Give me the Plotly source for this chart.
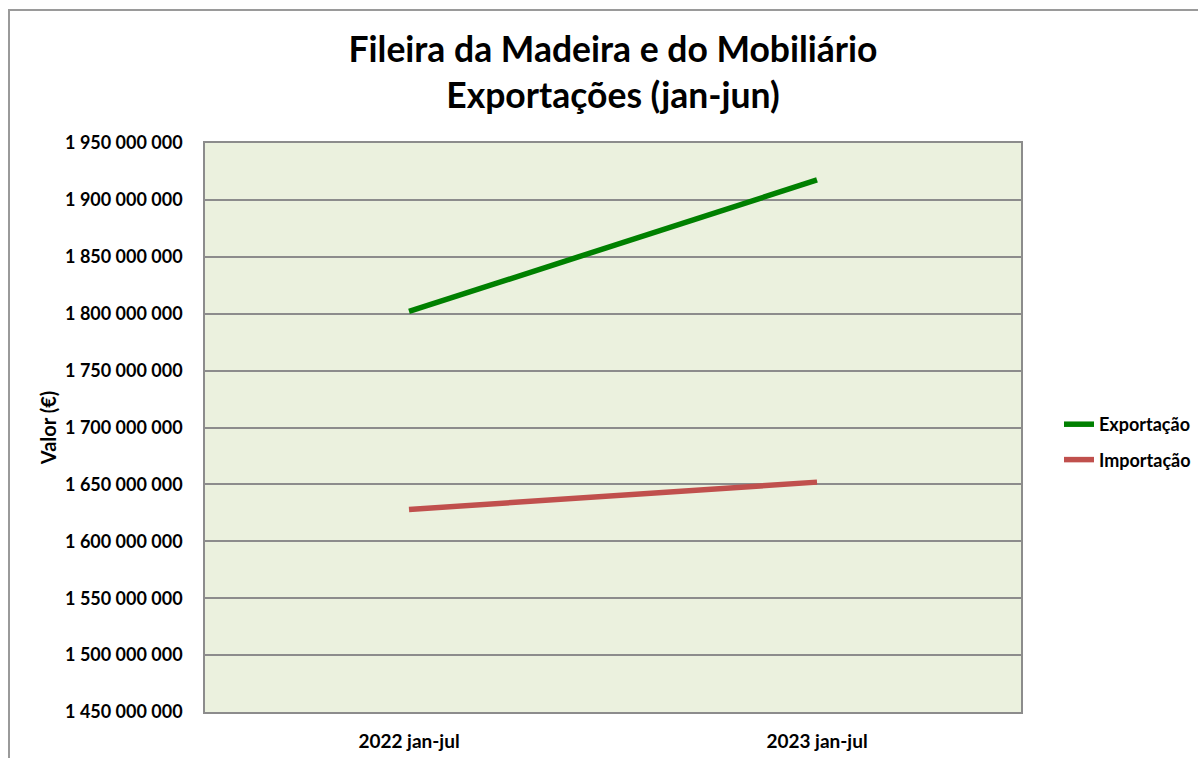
import plotly.graph_objects as go

categories = ["2022 jan-jul", "2023 jan-jul"]
exportacao = [1802000000, 1917500000]
importacao = [1628000000, 1652000000]
y_ticks = [1450000000 + 50000000 * i for i in range(11)]

FONT = "Lato"

fig = go.Figure()
fig.add_trace(go.Scatter(x=categories, y=exportacao, mode="lines", name="Exportação",
                         line=dict(color="#008000", width=5.5), legendgroup="a"))
fig.add_trace(go.Scatter(x=categories, y=importacao, mode="lines", name="Importação",
                         line=dict(color="#C0504D", width=5.5), legendgroup="b"))

fig.update_layout(
    width=1198, height=758,
    margin=dict(l=205, r=177, t=143, b=46),
    paper_bgcolor="white",
    plot_bgcolor="#EBF1DE",
    separators=", ",
    font=dict(family=FONT, color="black"),
    title=dict(text="Fileira da Madeira e do Mobiliário<br>Exportações (jan-jun)",
               x=0.5, xref="paper", xanchor="center", y=(758 - 62) / 758, yanchor="middle",
               font=dict(family=FONT, size=35.5, color="black", weight="bold")),
    showlegend=True,
    legend=dict(xref="container", yref="container", x=1059 / 1198, xanchor="left",
                y=(758 - 442) / 758, yanchor="middle",
                font=dict(family=FONT, size=18, color="black", weight="bold"), tracegroupgap=9,
                bgcolor="rgba(0,0,0,0)"),
    xaxis=dict(type="category", range=[-0.5, 1.5], showgrid=False, showline=True, mirror=True,
               linecolor="#8C8C8C", linewidth=1.5, ticks="", ticklabelstandoff=11, automargin=False,
               tickfont=dict(family=FONT, size=19, color="black", weight="bold")),
    yaxis=dict(range=[1450000000, 1950000000], tickvals=y_ticks, tickformat=",d",
               showgrid=True, gridcolor="#8C8C8C", gridwidth=1.5, showline=True, mirror=True,
               linecolor="#8C8C8C", linewidth=1.5, ticks="", ticklabelstandoff=17, zeroline=False,
               automargin=False,
               tickfont=dict(family=FONT, size=18, color="black", weight="bold"),
               title=dict(text="Valor (€)", font=dict(family=FONT, size=20, color="black", weight="bold"),
                          standoff=3)),
    shapes=[dict(type="rect", xref="paper", yref="paper",
                 x0=(9 - 205) / 816, x1=1.3, y0=-0.2, y1=(712 - 10) / 569,
                 line=dict(color="#9A9A9A", width=2), fillcolor="rgba(0,0,0,0)", layer="below")],
)

fig.write_html("out.html", config={"displayModeBar": False},
               post_script="document.body.style.margin='0';document.body.style.overflow='hidden';")
